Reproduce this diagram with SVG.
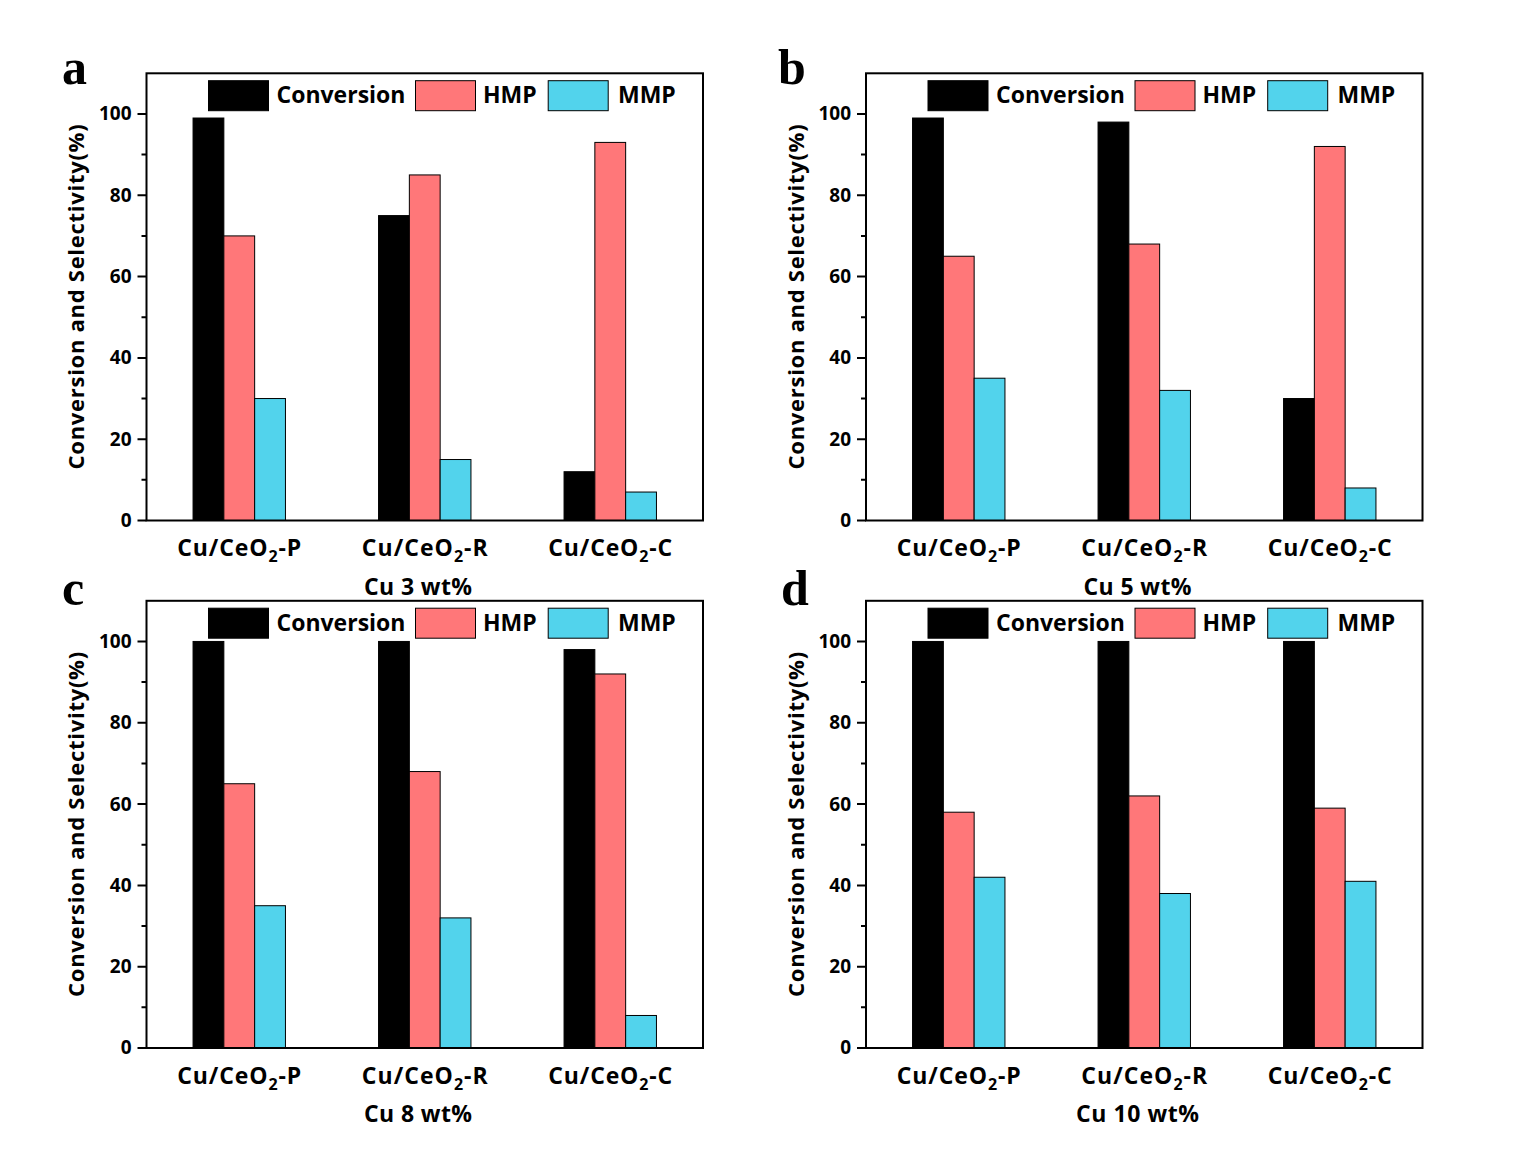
<svg xmlns="http://www.w3.org/2000/svg" width="1539" height="1153" viewBox="0 0 1539 1153">
<defs>
<style>
text{font-family:"Open Sans","DejaVu Sans",sans-serif;font-weight:bold;fill:#000}
.frame{fill:none;stroke:#000;stroke-width:2}
.tick{stroke:#000;stroke-width:2}
.k{fill:#000;stroke:#000;stroke-width:1}
.h{fill:#FF7779;stroke:#000;stroke-width:1}
.m{fill:#52D3EC;stroke:#000;stroke-width:1}
.tl{font-size:19px;text-anchor:end}
.lg{font-size:23px}
.xl{font-size:23px;text-anchor:middle}
.sub{font-size:23px;text-anchor:middle}
.yt{font-size:22px;text-anchor:middle}
.let{font-family:"Liberation Serif","Times New Roman",serif;font-size:50px;font-weight:bold}
</style>
<g id="axisdecor">
<path class="tick" d="M-9,447.2H0M-9,365.9H0M-9,284.6H0M-9,203.3H0M-9,122H0M-9,40.65H0M-5,406.5H0M-5,325.2H0M-5,243.9H0M-5,162.6H0M-5,81.3H0"/>
<text class="tl" x="-15" y="453.7">0</text>
<text class="tl" x="-15" y="372.4">20</text>
<text class="tl" x="-15" y="291.1">40</text>
<text class="tl" x="-15" y="209.8">60</text>
<text class="tl" x="-15" y="128.5">80</text>
<text class="tl" x="-15" y="47.2">100</text>
<text class="yt" transform="translate(-62.5,223.6) rotate(-90)" textLength="345" lengthAdjust="spacing">Conversion and Selectivity(%)</text>
<rect x="62" y="7.4" width="60" height="30" class="k"/>
<text class="lg" x="130" y="30">Conversion</text>
<rect x="269" y="7.4" width="60" height="30" class="h"/>
<text class="lg" x="336.5" y="30">HMP</text>
<rect x="401.7" y="7.4" width="60" height="30" class="m"/>
<text class="lg" x="471.5" y="30">MMP</text>
<text class="xl" x="92.75" y="483" textLength="124" lengthAdjust="spacing">Cu/CeO<tspan dy="6" font-size="16">2</tspan><tspan dy="-6">-P</tspan></text>
<text class="xl" x="278.25" y="483" textLength="126" lengthAdjust="spacing">Cu/CeO<tspan dy="6" font-size="16">2</tspan><tspan dy="-6">-R</tspan></text>
<text class="xl" x="463.75" y="483" textLength="124" lengthAdjust="spacing">Cu/CeO<tspan dy="6" font-size="16">2</tspan><tspan dy="-6">-C</tspan></text>
</g>
</defs>

<g id="panel-a" transform="translate(146.5,73.3)">
<g id="bars-a">
<rect class="k" x="46.55" y="44.72" width="30.8" height="402.48"/>
<rect class="h" x="77.35" y="162.61" width="30.8" height="284.59"/>
<rect class="m" x="108.15" y="325.23" width="30.8" height="121.97"/>
<rect class="k" x="232.05" y="142.29" width="30.8" height="304.91"/>
<rect class="h" x="262.85" y="101.63" width="30.8" height="345.57"/>
<rect class="m" x="293.65" y="386.22" width="30.8" height="60.98"/>
<rect class="k" x="417.55" y="398.41" width="30.8" height="48.79"/>
<rect class="h" x="448.35" y="69.11" width="30.8" height="378.09"/>
<rect class="m" x="479.15" y="418.74" width="30.8" height="28.46"/>
</g>
<rect class="frame" x="0" y="0" width="556.5" height="447.2"/>
<use href="#axisdecor"/>
<text class="sub" x="271.5" y="521.7" textLength="108" lengthAdjust="spacing">Cu 3 wt%</text>
</g>

<g id="panel-b" transform="translate(866,73.3)">
<g id="bars-b">
<rect class="k" x="46.55" y="44.72" width="30.8" height="402.48"/>
<rect class="h" x="77.35" y="182.94" width="30.8" height="264.26"/>
<rect class="m" x="108.15" y="304.91" width="30.8" height="142.29"/>
<rect class="k" x="232.05" y="48.78" width="30.8" height="398.42"/>
<rect class="h" x="262.85" y="170.75" width="30.8" height="276.45"/>
<rect class="m" x="293.65" y="317.10" width="30.8" height="130.10"/>
<rect class="k" x="417.55" y="325.23" width="30.8" height="121.97"/>
<rect class="h" x="448.35" y="73.17" width="30.8" height="374.03"/>
<rect class="m" x="479.15" y="414.68" width="30.8" height="32.52"/>
</g>
<rect class="frame" x="0" y="0" width="556.5" height="447.2"/>
<use href="#axisdecor"/>
<text class="sub" x="271.5" y="521.7" textLength="108" lengthAdjust="spacing">Cu 5 wt%</text>
</g>

<g id="panel-c" transform="translate(146.5,600.8)">
<g id="bars-c">
<rect class="k" x="46.55" y="40.65" width="30.8" height="406.55"/>
<rect class="h" x="77.35" y="182.94" width="30.8" height="264.26"/>
<rect class="m" x="108.15" y="304.91" width="30.8" height="142.29"/>
<rect class="k" x="232.05" y="40.65" width="30.8" height="406.55"/>
<rect class="h" x="262.85" y="170.75" width="30.8" height="276.45"/>
<rect class="m" x="293.65" y="317.10" width="30.8" height="130.10"/>
<rect class="k" x="417.55" y="48.78" width="30.8" height="398.42"/>
<rect class="h" x="448.35" y="73.17" width="30.8" height="374.03"/>
<rect class="m" x="479.15" y="414.68" width="30.8" height="32.52"/>
</g>
<rect class="frame" x="0" y="0" width="556.5" height="447.2"/>
<use href="#axisdecor"/>
<text class="sub" x="271.5" y="521.7" textLength="108" lengthAdjust="spacing">Cu 8 wt%</text>
</g>

<g id="panel-d" transform="translate(866,600.8)">
<g id="bars-d">
<rect class="k" x="46.55" y="40.65" width="30.8" height="406.55"/>
<rect class="h" x="77.35" y="211.40" width="30.8" height="235.80"/>
<rect class="m" x="108.15" y="276.45" width="30.8" height="170.75"/>
<rect class="k" x="232.05" y="40.65" width="30.8" height="406.55"/>
<rect class="h" x="262.85" y="195.14" width="30.8" height="252.06"/>
<rect class="m" x="293.65" y="292.71" width="30.8" height="154.49"/>
<rect class="k" x="417.55" y="40.65" width="30.8" height="406.55"/>
<rect class="h" x="448.35" y="207.34" width="30.8" height="239.86"/>
<rect class="m" x="479.15" y="280.51" width="30.8" height="166.69"/>
</g>
<rect class="frame" x="0" y="0" width="556.5" height="447.2"/>
<use href="#axisdecor"/>
<text class="sub" x="271.5" y="521.7" textLength="123" lengthAdjust="spacing">Cu 10 wt%</text>
</g>

<g id="panel-letters">
<text class="let" x="62" y="84">a</text>
<text class="let" x="778" y="84">b</text>
<text class="let" x="62" y="605">c</text>
<text class="let" x="781" y="605">d</text>
</g>
</svg>
